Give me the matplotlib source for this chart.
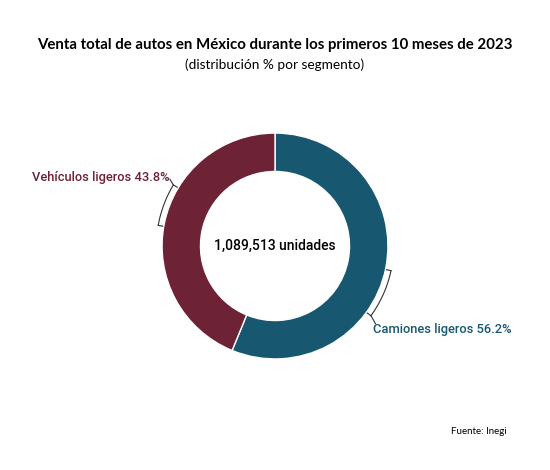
import numpy as np
import matplotlib
matplotlib.use("Agg")
import matplotlib.pyplot as plt

segments = ["Camiones ligeros", "Vehículos ligeros"]
shares = [56.2, 43.8]
colors = ["#175870", "#6d2235"]
total_units = "1,089,513 unidades"

fig = plt.figure(figsize=(5.5, 4.7), dpi=100)
ax = fig.add_axes([0.5 - 0.308, 0.4766 - 0.3606, 0.616, 0.7212])

ax.pie(shares, colors=colors, startangle=90, counterclock=False, radius=1.0,
       wedgeprops={"width": 0.34, "edgecolor": "white", "linewidth": 1})
ax.set_xlim(-1.5, 1.5)
ax.set_ylim(-1.5, 1.5)
ax.set_aspect("equal")
ax.axis("off")

ax.text(0, 0, total_units, ha="center", va="center", fontsize=10,
        family="Roboto", weight="medium", color="black")


def bracket(a0, a1, r=1.05, tick=0.04):
    t = np.radians(np.linspace(a0, a1, 40))
    ax.plot(r * np.cos(t), r * np.sin(t), color="#333333", lw=0.8)
    for a in (a0, a1):
        th = np.radians(a)
        ax.plot([r * np.cos(th), (r - tick) * np.cos(th)],
                [r * np.sin(th), (r - tick) * np.sin(th)], color="#333333", lw=0.8)


# Vehículos ligeros callout (left)
bracket(149, 170)
th = np.radians(149)
ax.plot([1.05 * np.cos(th), 1.05 * np.cos(th) - 0.03], [1.05 * np.sin(th), 1.05 * np.sin(th) + 0.05],
        color="#333333", lw=0.8)
ax.text(1.05 * np.cos(th) - 0.03, 1.05 * np.sin(th) + 0.07,
        f"{segments[1]} {shares[1]}%", ha="right", va="center", fontsize=9.3,
        family="Roboto", weight="medium", color=colors[1])

# Camiones ligeros callout (right)
bracket(-12, -36)
th = np.radians(-36)
ax.plot([1.05 * np.cos(th), 1.05 * np.cos(th) + 0.04], [1.05 * np.sin(th), 1.05 * np.sin(th) - 0.07],
        color="#333333", lw=0.8)
ax.text(1.05 * np.cos(th) + 0.02, 1.05 * np.sin(th) - 0.12,
        f"{segments[0]} {shares[0]}%", ha="left", va="center", fontsize=9.3,
        family="Roboto", weight="medium", color=colors[0])

fig.text(0.5, 1 - 45 / 470, "Venta total de autos en México durante los primeros 10 meses de 2023",
         ha="center", va="center", fontsize=10.8, family="Lato", weight="bold", color="black")
fig.text(0.5, 1 - 65 / 470, "(distribución % por segmento)",
         ha="center", va="center", fontsize=9.8, family="Lato", color="black")
fig.text(507 / 550, 1 - 431 / 470, "Fuente: Inegi", ha="right", va="center",
         fontsize=7, family="Lato", color="black")

fig.savefig("out.png", dpi=100, facecolor="white")
